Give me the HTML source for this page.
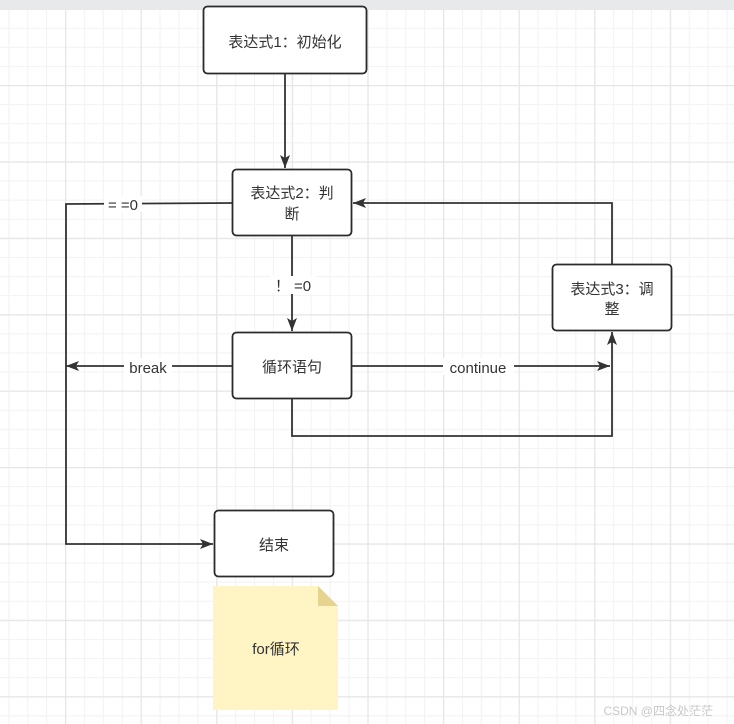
<!DOCTYPE html>
<html><head><meta charset="utf-8"><style>
html,body{margin:0;padding:0;background:#fff;}
body{width:734px;height:724px;overflow:hidden;position:relative;font-family:"Liberation Sans","Noto Sans CJK SC",sans-serif;}
</style></head><body>
<svg width="734" height="724" xmlns="http://www.w3.org/2000/svg" style="position:absolute;left:0;top:0">
<defs>
<pattern id="minor" x="-10.6" y="8.6" width="18.9" height="19.1" patternUnits="userSpaceOnUse">
<path d="M0.5 0V19.1M0 0.5H18.9" stroke="#f3f3f3" stroke-width="1.2" fill="none"/>
</pattern>
<pattern id="major" x="-10.6" y="8.6" width="75.6" height="76.4" patternUnits="userSpaceOnUse">
<path d="M0.5 0V76.4M0 0.5H75.6" stroke="#e6e6e6" stroke-width="1.5" fill="none"/>
</pattern>
<marker id="ar" markerWidth="14" markerHeight="12" refX="13" refY="6" orient="auto" markerUnits="userSpaceOnUse">
<path d="M0,1 L13,6 L0,11 L3,6 Z" fill="#333"/>
</marker>
</defs>
<rect width="734" height="724" fill="url(#minor)"/>
<rect width="734" height="724" fill="url(#major)"/>
<rect width="734" height="10" fill="#e8e9eb"/>
<g stroke="#333" stroke-width="1.8" fill="none">
<line x1="285" y1="74" x2="285" y2="168" marker-end="url(#ar)"/>
<polyline points="232,203 66,204 66,544 213,544" marker-end="url(#ar)"/>
<line x1="292" y1="236" x2="292" y2="331" marker-end="url(#ar)"/>
<line x1="232" y1="366" x2="66" y2="366" marker-end="url(#ar)"/>
<line x1="352" y1="366" x2="610" y2="366" marker-end="url(#ar)"/>
<polyline points="292,399 292,436 612,436 612,332" marker-end="url(#ar)"/>
<polyline points="612,264 612,203 353,203" marker-end="url(#ar)"/>
</g>
<g fill="#fff" stroke="#2b2b2b" stroke-width="1.8">
<rect x="203.5" y="6.5" width="163" height="67" rx="4"/>
<rect x="232.5" y="169.5" width="119" height="66" rx="4"/>
<rect x="552.5" y="264.5" width="119" height="66" rx="4"/>
<rect x="232.5" y="332.5" width="119" height="66" rx="4"/>
<rect x="214.5" y="510.5" width="119" height="66" rx="4"/>
</g>
<path d="M213,586 H318 L338,606 V710 H213 Z" fill="#fff4c3"/>
<path d="M318,586 L338,606 H318 Z" fill="#e5d38e"/>
<g fill="#fff">
<rect x="104" y="196" width="38" height="16"/>
<rect x="270" y="276" width="46" height="18"/>
<rect x="124" y="358" width="48" height="17"/>
<rect x="443" y="358" width="71" height="17"/>
</g>
<g font-size="15" fill="#333" text-anchor="middle" font-family="Liberation Sans, Noto Sans CJK SC, sans-serif">
<text x="285" y="47">表达式1：初始化</text>
<text x="292" y="198">表达式2：判</text>
<text x="292" y="219">断</text>
<text x="612" y="294">表达式3：调</text>
<text x="612" y="314">整</text>
<text x="292" y="372">循环语句</text>
<text x="274" y="550">结束</text>
<text x="276" y="654">for循环</text>
<text x="123" y="210">= =0</text>
<text x="293" y="291">！ =0</text>
<text x="148" y="373">break</text>
<text x="478" y="373">continue</text>
</g>
<text x="713" y="715" font-size="12" fill="#c8c8c8" text-anchor="end" font-family="Liberation Sans, Noto Sans CJK SC, sans-serif">CSDN @四念处茫茫</text>
</svg>
</body></html>
